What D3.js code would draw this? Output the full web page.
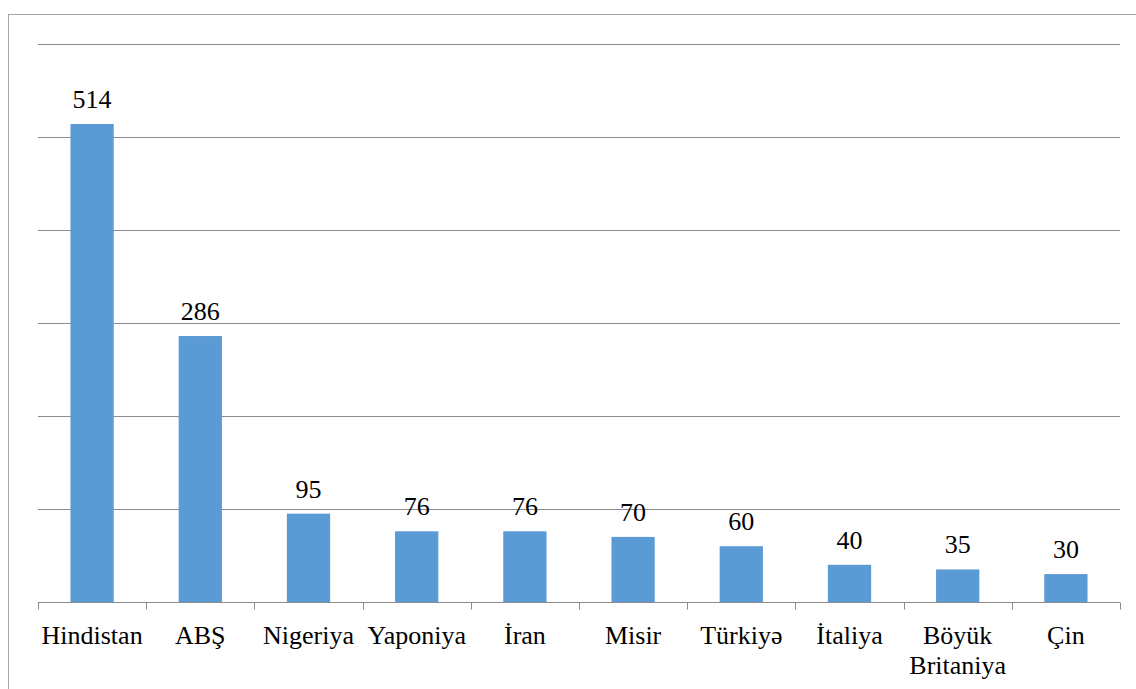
<!DOCTYPE html>
<html><head><meta charset="utf-8"><script src="https://cdn.jsdelivr.net/npm/d3@7"></script>
<style>body { margin: 0; background: #fff; }</style></head>
<body>
<script>
// data
var countries = ["Hindistan", "ABŞ", "Nigeriya", "Yaponiya", "İran", "Misir", "Türkiyə", "İtaliya", "Böyük Britaniya", "Çin"];
var values = [514, 286, 95, 76, 76, 70, 60, 40, 35, 30];
var yTicks = [0, 100, 200, 300, 400, 500, 600];

var W = 1136, H = 689;
var margin = {top: 44, right: 16, bottom: 87, left: 38};

var svg = d3.select("body").append("svg")
  .attr("width", W)
  .attr("height", H);

// outer frame (right and bottom edges fall outside the picture)
svg.append("rect")
  .attr("x", 8.5).attr("y", 14.5)
  .attr("width", 1140).attr("height", 700)
  .attr("fill", "none")
  .attr("stroke", "#a6a6a6");

var x = d3.scaleBand()
  .domain(countries)
  .range([margin.left, W - margin.right])
  .paddingInner(0.6)
  .paddingOuter(0.3);

var y = d3.scaleLinear()
  .domain([0, 600])
  .range([H - margin.bottom, margin.top]);

// gridlines
svg.append("g")
  .selectAll("line")
  .data(yTicks.filter(d => d > 0))
  .enter().append("line")
  .attr("x1", margin.left).attr("x2", W - margin.right)
  .attr("y1", d => Math.round(y(d)) + 0.5)
  .attr("y2", d => Math.round(y(d)) + 0.5)
  .attr("stroke", "#8c8c8c");

// bars
svg.append("g")
  .selectAll("rect")
  .data(values)
  .enter().append("rect")
  .attr("x", (d, i) => x(countries[i]))
  .attr("width", x.bandwidth())
  .attr("y", d => y(d))
  .attr("height", d => y(0) - y(d))
  .attr("fill", "#5b9bd5");

// value labels
svg.selectAll("text.val")
  .data(values)
  .enter().append("text")
  .attr("class", "val")
  .attr("x", (d, i) => x(countries[i]) + x.bandwidth() / 2)
  .attr("y", d => y(d) - 16)
  .attr("text-anchor", "middle")
  .style("font-family", "'Liberation Serif'")
  .style("font-size", "26px")
  .text(d => d);

// x axis line and ticks at category boundaries
var axisY = Math.round(y(0)) + 0.5;
svg.append("line")
  .attr("x1", margin.left).attr("x2", W - margin.right)
  .attr("y1", axisY).attr("y2", axisY)
  .attr("stroke", "#8c8c8c");

var bounds = d3.range(countries.length + 1).map(i => margin.left + i * (W - margin.left - margin.right) / countries.length);
svg.append("g")
  .selectAll("line")
  .data(bounds)
  .enter().append("line")
  .attr("x1", d => Math.round(d) + 0.5).attr("x2", d => Math.round(d) + 0.5)
  .attr("y1", axisY).attr("y2", axisY + 7)
  .attr("stroke", "#8c8c8c");

// category labels (two-word names on two lines)
var lines = [];
countries.forEach(function(c) {
  c.split(" ").forEach(function(p, k) { lines.push({c: c, t: p, k: k}); });
});
svg.selectAll("text.cat")
  .data(lines)
  .enter().append("text")
  .attr("class", "cat")
  .attr("x", d => x(d.c) + x.bandwidth() / 2)
  .attr("y", d => axisY + 41 + d.k * 30)
  .attr("text-anchor", "middle")
  .style("font-family", "'Liberation Serif'")
  .style("font-size", "26px")
  .text(d => d.t);
</script>
</body></html>
